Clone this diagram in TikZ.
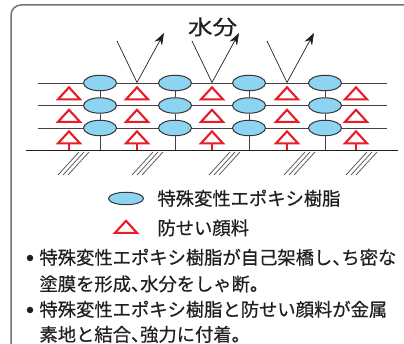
\documentclass[tikz,border=0pt]{standalone}
\usepackage{fontspec}
\setmainfont{Noto Sans CJK JP}[RawFeature=+halt,FakeBold=0.5]
\newfontfamily\titrefont{Noto Sans CJK JP}[FakeStretch=1.2,FakeBold=0.5]
\usetikzlibrary{arrows.meta,shapes.geometric}
\definecolor{a}{RGB}{140, 212, 242}
\definecolor{b}{RGB}{232, 28, 36}
\definecolor{c}{RGB}{115, 115, 115}
\definecolor{d}{RGB}{35, 31, 32}

\begin{document}
\begin{tikzpicture}[x=1pt,y=-1pt,
	resine/.style={ellipse,draw=d!90,fill=a,line width=1pt,minimum width=33pt,minimum height=15.5pt,inner sep=0pt},
	pigment/.style={isosceles triangle,isosceles triangle stretches,shape border rotate=90,draw=b,line width=2.1pt,minimum width=22pt,minimum height=12pt,inner sep=0pt},
	texte/.style={anchor=base west,inner sep=0pt,text=d,font=\fontsize{18.3}{22}\selectfont},
	puce/.style={circle,fill=d,minimum size=6.5pt,inner sep=0pt},
	trait/.style={draw=d!85,line width=0.9pt},
	hachure/.style={draw=d!80,line width=0.7pt},
	onde/.style={draw=d,line width=0.7pt}]
				\useasboundingbox (0,0) rectangle (404,344);
				\draw[c,line width=1.5pt,rounded corners=10pt] (11,420) -- (11,5) -- (420,5); % le cadre
				% les couches
				\coordinate (sol) at (26,150.5);
				\coordinate (sold) at (398,150.5);
				\foreach \Y [count=\j] in {83,105.5,128}{
					\coordinate (g\j) at (38,\Y);
					\coordinate (d\j) at (387,\Y);
					\draw[trait] (g\j) -- (d\j);}
				\draw[d,line width=1.8pt] (sol) -- (sold); % le support
				\foreach \X in {79,153,230,305,367}{
					\foreach \D in {0,5,10}{
						\draw[hachure] (\X+\D,152) -- ++(-21,23);}}
				% la résine
				\foreach \X [count=\i] in {100,175,249,325}{
					\foreach \Y [count=\j] in {83,105.5,128}{
						\node[resine] (e\i\j) at (\X,\Y) {};}
					\draw[trait] (e\i1) -- (e\i2);
					\draw[trait] (e\i2) -- (e\i3);
					\draw[trait] (e\i3) -- (e\i3 |- sol);}
				% le pigment
				\foreach \X [count=\i] in {69,137,212,287,356}{
					\foreach \Y [count=\j] in {94.5,117,138.5}{
						\node[pigment] (t\i\j) at (\X,\Y) {};}
					\draw[b,line width=2pt] (t\i3.south) -- (t\i3.south |- sol);}
				% l'eau
				\foreach \X [count=\i] in {137,212,287}{
					\coordinate (w\i) at (\X-20,41);
					\coordinate (v\i) at (\X,82.5);
					\coordinate (f\i) at (\X+27,33);
					\draw[onde] (w\i) -- (v\i);
					\draw[onde,-{Stealth[length=12pt,width=8.5pt]}] (v\i) -- (f\i);}
				\node[anchor=base,inner sep=0pt,text=d,font=\titrefont\fontsize{20.5}{24}\selectfont] (eau) at (212.5,34.6) {水分};
				% la légende
				\node[resine,minimum width=35pt,minimum height=12.5pt] (le) at (126,198.5) {};
				\node[texte] (lte) at (157.3,205.3) {特殊変性エポキシ樹脂};
				\node[pigment] (lt) at (126,228) {};
				\node[texte] (ltt) at (157.3,234.8) {防せい顔料};
				% le texte
				\node[puce] (p1) at (30,258) {};
				\node[texte] (l1) at (39.3,264.3) {特殊変性エポキシ樹脂が自己架橋し、ち密な};
				\node[texte] (l2) at (39.3,290.8) {塗膜を形成、水分をしゃ断。};
				\node[puce] (p2) at (30,310) {};
				\node[texte] (l3) at (39.3,316.3) {特殊変性エポキシ樹脂と防せい顔料が金属};
				\node[texte] (l4) at (39.3,341.3) {素地と結合、強力に付着。};
			\end{tikzpicture}
\end{document}
